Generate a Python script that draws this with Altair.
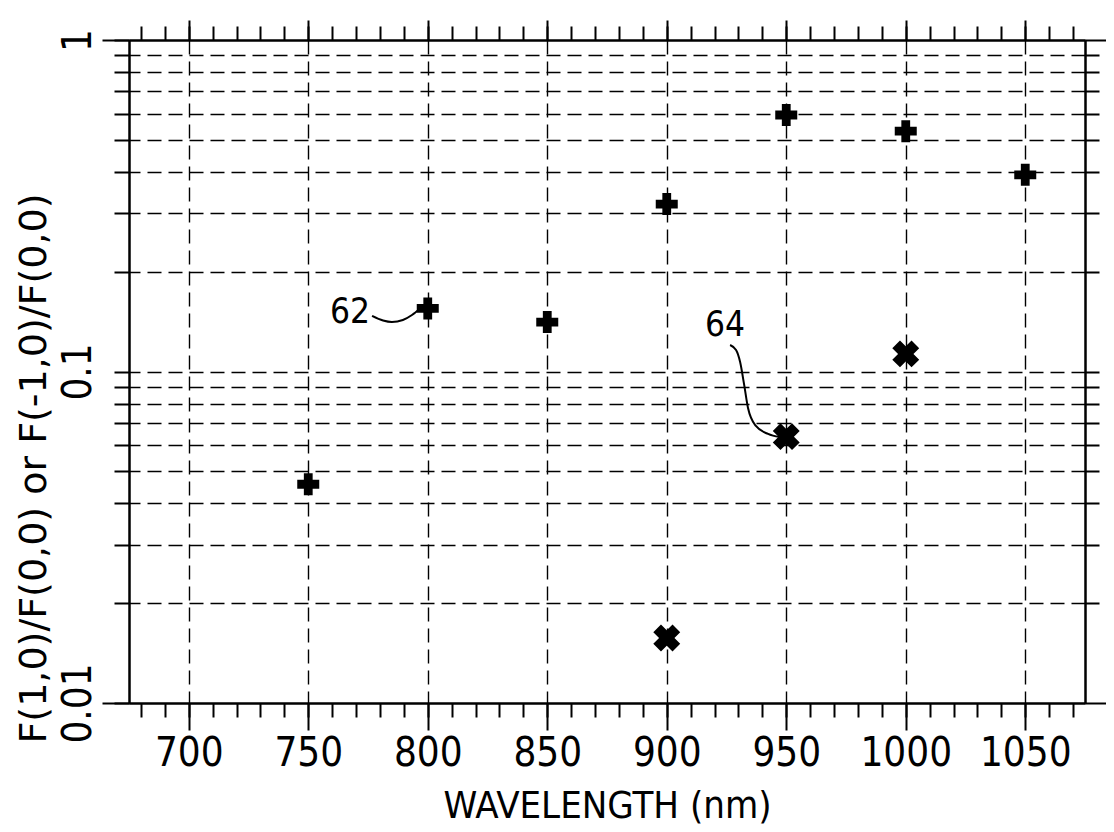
import altair as alt
import pandas as pd

# ---- data ----
plus_nm = [750, 800, 850, 900, 950, 1000, 1050]
plus_val = [0.0457, 0.155, 0.141, 0.32, 0.594, 0.531, 0.392]

cross_nm = [900, 950, 1000]
cross_val = [0.0157, 0.0636, 0.113]

label_text = ["62", "64"]
label_nm = [767.5, 924.4]
label_val = [0.1512, 0.1386]

leader62_nm = [776.7, 781.3, 785.0, 789.6, 793.4, 796.8]
leader62_val = [0.1471, 0.1425, 0.1410, 0.1430, 0.1481, 0.1549]
leader64_nm = [926.5, 929.0, 930.7, 932.4, 934.0, 937.3, 942.4, 947.3]
leader64_val = [0.1202, 0.1161, 0.1068, 0.0911, 0.0776, 0.0685, 0.0648, 0.0634]

x_minor_ticks = [680, 690, 700, 710, 720, 730, 740, 750, 760, 770, 780, 790, 800,
                 810, 820, 830, 840, 850, 860, 870, 880, 890, 900, 910, 920, 930,
                 940, 950, 960, 970, 980, 990, 1000, 1010, 1020, 1030, 1040, 1050,
                 1060, 1070]
x_major_ticks = [700, 750, 800, 850, 900, 950, 1000, 1050]
y_all_ticks = [0.01, 0.02, 0.03, 0.04, 0.05, 0.06, 0.07, 0.08, 0.09,
               0.1, 0.2, 0.3, 0.4, 0.5, 0.6, 0.7, 0.8, 0.9, 1]
y_grid_ticks = [0.02, 0.03, 0.04, 0.05, 0.06, 0.07, 0.08, 0.09,
                0.1, 0.2, 0.3, 0.4, 0.5, 0.6, 0.7, 0.8, 0.9]
y_end_ticks = [0.01, 1]

plus_df = pd.DataFrame({"nm": plus_nm, "val": plus_val})
cross_df = pd.DataFrame({"nm": cross_nm, "val": cross_val})
label_df = pd.DataFrame({"nm": label_nm, "val": label_val, "text": label_text})
lead_df = pd.DataFrame({
    "nm": leader62_nm + leader64_nm,
    "val": leader62_val + leader64_val,
    "leader": ["62"] * len(leader62_nm) + ["64"] * len(leader64_nm),
    "order": list(range(len(leader62_nm))) + list(range(len(leader64_nm))),
})

NARROW = "Liberation Sans Narrow, DejaVu Sans Condensed, Liberation Sans, sans-serif"
WIDE = "DejaVu Sans, sans-serif"

xs = alt.Scale(domain=[675, 1075], nice=False, zero=False)
ys = alt.Scale(type="log", domain=[0.01, 1], nice=False)

common = dict(domainColor="black", domainWidth=2, tickColor="black", tickWidth=2)
grid_style = dict(grid=True, gridColor="black", gridWidth=1.4, gridDash=[14, 7], gridOpacity=1)

y_label_expr = ("datum.value > 0.999 ? '1' : (abs(datum.value - 0.1) < 1e-6 ? '0.1' : "
                "(abs(datum.value - 0.01) < 1e-7 ? '0.01' : ''))")

# Layer 1: plus markers, main labelled axes
l1 = alt.Chart(plus_df).mark_point(shape="cross", filled=True, color="black",
                                   size=484, opacity=1).encode(
    x=alt.X("nm:Q", scale=xs, axis=alt.Axis(
        orient="bottom", values=x_minor_ticks, tickSize=14, grid=False,
        labelExpr="datum.value % 50 == 0 ? format(datum.value, 'd') : ''",
        labelOverlap=False, labelFlush=False, labelFont=NARROW, labelFontSize=40,
        labelColor="black", labelPadding=16,
        title="WAVELENGTH (nm)", titleFont=NARROW, titleFontSize=38,
        titleFontWeight="normal", titleColor="black", titleBaseline="alphabetic",
        titleY=114, **common)),
    y=alt.Y("val:Q", scale=ys, axis=alt.Axis(
        orient="left", values=y_all_ticks, tickSize=15, grid=False,
        labelExpr=y_label_expr, labelOverlap=False, labelFlush=False,
        labelFont=NARROW, labelFontSize=40, labelColor="black",
        labelAngle=270, labelAlign="center", labelBaseline="alphabetic",
        labelPadding=24,
        title="F(1,0)/F(0,0) or F(-1,0)/F(0,0)", titleFont=WIDE, titleFontSize=38,
        titleFontWeight="normal", titleColor="black", titleAngle=270,
        titleAlign="center", titleBaseline="alphabetic", titleX=-84, titleY=428,
        **common)),
)

# Layer 2: x markers, major bottom ticks + vertical grid, long end ticks on left
l2 = alt.Chart(cross_df).mark_point(shape="cross", filled=True, color="black",
                                    size=740, angle=45, opacity=1).encode(
    x=alt.X("nm:Q", scale=xs, axis=alt.Axis(
        orient="bottom", values=x_major_ticks, tickSize=27, labels=False,
        title=None, **grid_style, **common)),
    y=alt.Y("val:Q", scale=ys, axis=alt.Axis(
        orient="left", values=y_end_ticks, tickSize=27, labels=False,
        title=None, grid=False, **common)),
)

# Layer 3: leader lines, top minor ticks + right ticks with horizontal grid
l3 = alt.Chart(lead_df).mark_line(color="black", strokeWidth=2,
                                  interpolate="monotone").encode(
    x=alt.X("nm:Q", scale=xs, axis=alt.Axis(
        orient="top", values=x_minor_ticks, tickSize=14, labels=False,
        title=None, grid=False, **common)),
    y=alt.Y("val:Q", scale=ys, axis=alt.Axis(
        orient="right", values=y_grid_ticks, tickSize=14, labels=False,
        title=None, **grid_style, **common)),
    detail="leader:N",
    order="order:Q",
)

# Layer 4: annotation numbers, top major ticks + right end ticks
l4 = alt.Chart(label_df).mark_text(font=NARROW, fontSize=35, color="black",
                                   align="center", baseline="middle").encode(
    x=alt.X("nm:Q", scale=xs, axis=alt.Axis(
        orient="top", values=x_major_ticks, tickSize=20, labels=False,
        title=None, grid=False, **common)),
    y=alt.Y("val:Q", scale=ys, axis=alt.Axis(
        orient="right", values=y_end_ticks, tickSize=26, labels=False,
        title=None, grid=False, **common)),
    text="text:N",
)

chart = alt.layer(l1, l2, l3, l4).resolve_axis(
    x="independent", y="independent"
).properties(
    width=956, height=663,
    autosize=alt.AutoSizeParams(type="none"),
    padding={"left": 121, "top": 32, "right": 21, "bottom": 129},
    background="white",
).configure_view(stroke=None)

chart.save("out.html", embed_options={"renderer": "svg", "actions": False})
